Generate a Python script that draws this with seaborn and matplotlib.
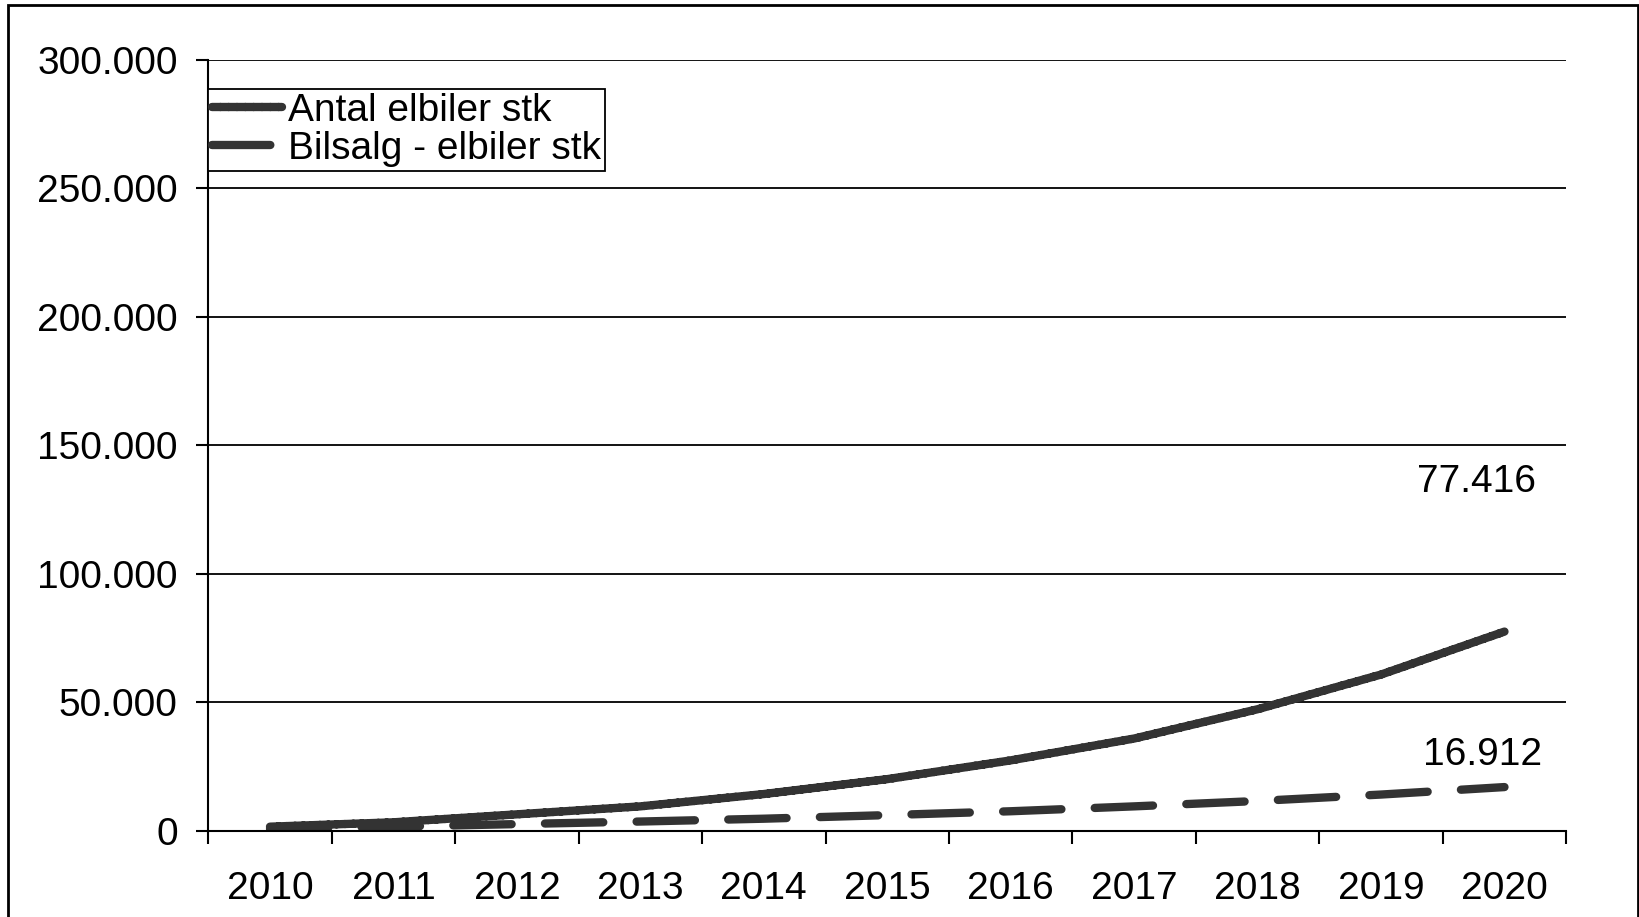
import pandas as pd
import matplotlib.pyplot as plt
import matplotlib.ticker as mticker
from matplotlib.patches import Rectangle
import seaborn as sns

# Data
years = ["2010", "2011", "2012", "2013", "2014", "2015", "2016", "2017", "2018", "2019", "2020"]
antal_elbiler = [1500, 3200, 6300, 9400, 14200, 20000, 27300, 35800, 47200, 60700, 77416]
bilsalg_elbiler = [700, 1500, 2500, 3500, 4600, 6000, 7500, 9400, 11500, 14000, 16912]
series_names = ["Antal elbiler stk", "Bilsalg - elbiler stk"]
y_ticks = [0, 50000, 100000, 150000, 200000, 250000, 300000]

df = pd.concat([
    pd.DataFrame({"Year": years, "Value": antal_elbiler, "Series": series_names[0]}),
    pd.DataFrame({"Year": years, "Value": bilsalg_elbiler, "Series": series_names[1]}),
])

sns.set_style("white")
plt.rcParams["font.family"] = ["Liberation Sans", "DejaVu Sans"]
plt.rcParams["text.color"] = "black"

fig = plt.figure(figsize=(16.4, 9.17), dpi=100)
ax = fig.add_axes([0.127, 0.0943, 0.828, 0.8407])

line_col = "#333333"
sns.lineplot(data=df, x="Year", y="Value", hue="Series", style="Series",
             palette=[line_col, line_col], dashes=[(1, 0), (7, 4)],
             linewidth=6, ax=ax, legend=True)
for ln in ax.get_lines():
    ln.set_solid_capstyle("round")
    ln.set_dash_capstyle("round")

# number formatting with period as thousands separator
fmt = lambda v, pos=None: f"{int(v):,}".replace(",", ".")

ax.set_ylim(0, 300000)
ax.set_yticks(y_ticks)
ax.yaxis.set_major_formatter(mticker.FuncFormatter(fmt))
ax.set_xlim(-0.5, len(years) - 0.5)
ax.set_xticks(range(len(years)))
ax.set_xticklabels(years)
ax.set_xticks([i - 0.5 for i in range(len(years) + 1)], minor=True)
ax.tick_params(axis="x", which="major", length=0, pad=29, labelsize=28, colors="black")
ax.tick_params(axis="x", which="minor", length=9, width=1.5, direction="out", color="black", bottom=True)
ax.tick_params(axis="y", length=9, width=1.5, direction="out", pad=13, labelsize=28,
               colors="black", left=True)
ax.set_xlabel("")
ax.set_ylabel("")

ax.yaxis.grid(True, color="black", linewidth=1.3)
ax.xaxis.grid(False)
for s in ["top", "right"]:
    ax.spines[s].set_visible(False)
for s in ["left", "bottom"]:
    ax.spines[s].set_color("black")
    ax.spines[s].set_linewidth(1.5)

# end value labels
ax.annotate(fmt(antal_elbiler[-1]), xy=(len(years) - 1, antal_elbiler[-1]),
            xytext=(-20, 108), textcoords="offset points", ha="center", va="center",
            fontsize=28, color="black")
ax.annotate(fmt(bilsalg_elbiler[-1]), xy=(len(years) - 1, bilsalg_elbiler[-1]),
            xytext=(-16, 23), textcoords="offset points", ha="center", va="center",
            fontsize=28, color="black")

leg = ax.legend(loc="upper left", bbox_to_anchor=(0.0, 0.962), borderaxespad=0,
                fontsize=28, handlelength=1.8, handletextpad=0.15, labelspacing=0.05,
                borderpad=0.1, fancybox=False, framealpha=1, edgecolor="black")
leg.get_frame().set_linewidth(1.3)
for t in leg.get_texts():
    t.set_color("black")

# outer frame around the whole figure
fig.patches.append(Rectangle((8 / 1640, -0.1), 1630 / 1640, 1.1 - 5 / 917,
                             transform=fig.transFigure, fill=False,
                             edgecolor="black", linewidth=2))

fig.savefig("out.png", dpi=100)
